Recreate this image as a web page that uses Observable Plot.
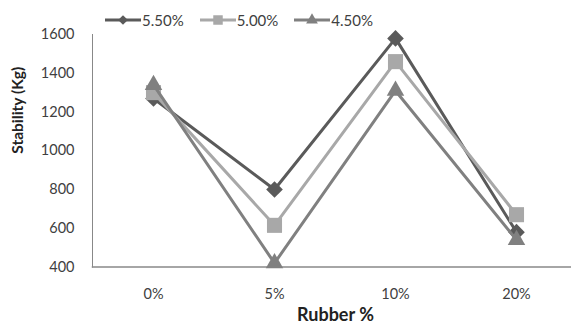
<!DOCTYPE html>
<html>
<head>
<meta charset="utf-8">
<script src="https://cdn.jsdelivr.net/npm/d3@7"></script>
<script src="https://cdn.jsdelivr.net/npm/@observablehq/plot@0.6"></script>
<style>
  body { margin: 0; background: #fff; font-family: Lato, "Open Sans", sans-serif; }
  #chart { position: relative; width: 571px; height: 333px; }
  #legend { position: absolute; left: 105px; top: 11px; display: flex; gap: 16px; align-items: center; }
  #legend .item { display: flex; align-items: center; gap: 1px; font-size: 15px; color: #404040; }
  #legend svg { display: block; }
</style>
</head>
<body>
<div id="chart"><div id="legend"></div></div>
<script>
// Marshall stability by rubber content, one series per binder content
const rubber = ["0%", "5%", "10%", "20%"];
const series = ["5.50%", "5.00%", "4.50%"];
const stability550 = [1270, 800, 1580, 580];
const stability500 = [1300, 615, 1460, 670];
const stability450 = [1340, 420, 1310, 540];
const yTicks = [400, 600, 800, 1000, 1200, 1400, 1600];

const seriesValues = [stability550, stability500, stability450];
const colors = ["#5a5a5a", "#a8a8a8", "#808080"];
const symbols = ["diamond2", "square", "triangle"];
const radii = [7.5, 8.5, 6.5];

const rows = series.flatMap((s, i) =>
  rubber.map((r, j) => ({ series: s, rubber: r, value: seriesValues[i][j] }))
);

const seriesMarks = series.flatMap((s, i) => {
  const data = rows.filter(d => d.series === s);
  return [
    Plot.line(data, { x: "rubber", y: "value", stroke: colors[i], strokeWidth: 3 }),
    Plot.dot(data, { x: "rubber", y: "value", symbol: symbols[i], fill: colors[i], r: radii[i], stroke: "none" })
  ];
});

const chart = Plot.plot({
  width: 571,
  height: 333,
  marginLeft: 92,
  marginRight: 0,
  marginTop: 34,
  marginBottom: 66.5,
  style: { fontFamily: "Lato, 'Open Sans', sans-serif", fontSize: "14.5px", color: "#404040", background: "white" },
  x: { type: "point", domain: rubber, range: [152, 517], padding: 0 },
  y: { domain: [400, 1600] },
  marks: [
    Plot.axisY({ ticks: yTicks, tickFormat: d => String(d), tickSize: 0, tickPadding: 18, label: null }),
    Plot.axisX({ tickSize: 0, tickPadding: 22, label: null }),
    Plot.frame({ anchor: "left", stroke: "#888" }),
    Plot.frame({ anchor: "bottom", stroke: "#888", strokeWidth: 1.5 }),
    Plot.text(["Rubber %"], { frameAnchor: "bottom", dy: 53.5, dx: 3.5, fontWeight: "bold", fontSize: 18, fill: "#222" }),
    Plot.text(["Stability (Kg)"], { frameAnchor: "left", dx: -74, dy: 3, rotate: -90, fontWeight: "bold", fontSize: 15.5, fill: "#222" }),
    ...seriesMarks
  ]
});

document.getElementById("chart").appendChild(chart);

// Legend: line swatch with the series marker, then its label
const legend = d3.select("#legend");
series.forEach((s, i) => {
  const item = legend.append("div").attr("class", "item");
  const svg = item.append("svg").attr("width", 36).attr("height", 16);
  svg.append("line").attr("x1", 0).attr("x2", 36).attr("y1", 8).attr("y2", 8)
    .attr("stroke", colors[i]).attr("stroke-width", 3);
  const sym = { diamond2: d3.symbolDiamond2, square: d3.symbolSquare, triangle: d3.symbolTriangle }[symbols[i]];
  const size = [60, 90, 60][i];
  svg.append("path").attr("transform", "translate(18,8)")
    .attr("d", d3.symbol(sym, size)()).attr("fill", colors[i]);
  item.append("span").text(s);
});
</script>
</body>
</html>
